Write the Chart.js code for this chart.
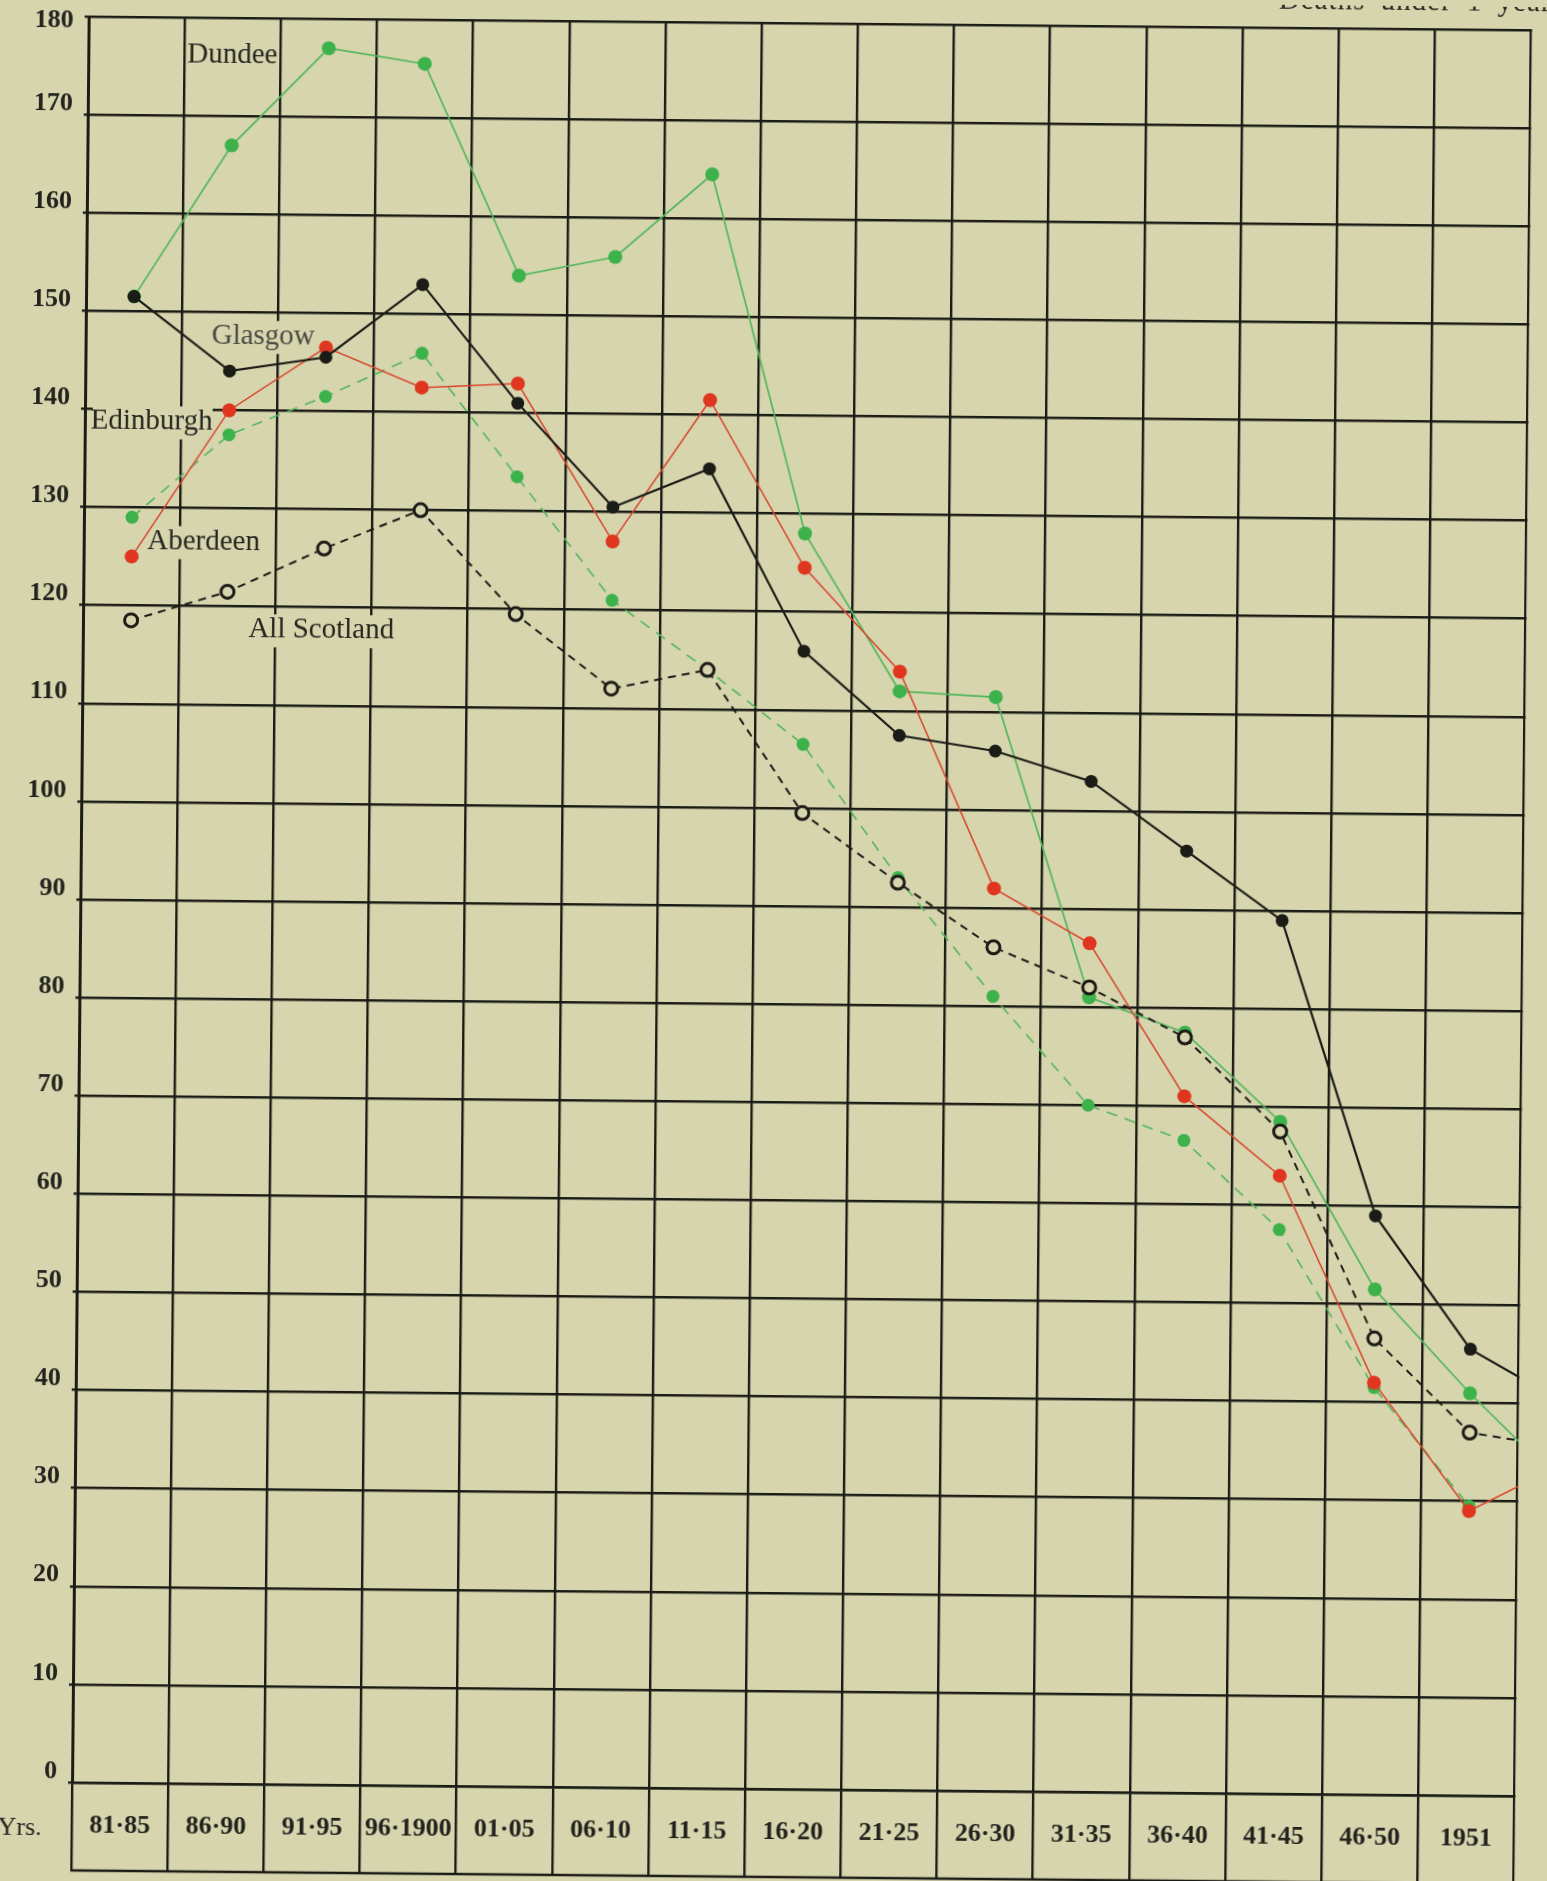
<!DOCTYPE html>
<html>
<head>
<meta charset="utf-8">
<script src="https://cdn.jsdelivr.net/npm/chart.js@4.4.1/dist/chart.umd.min.js"></script>
<style>
  html, body { margin: 0; padding: 0; background: #d6d5ae; overflow: hidden; width: 1547px; height: 1881px; }
  /* the scanned page sits a little crooked; the sheet is wider than the window,
     the last period column runs off the edge */
  #hoja { width: 1628px; height: 1881px; transform: rotate(0.54deg); transform-origin: 773.5px 940.5px; }
</style>
</head>
<body>
<div id="hoja"><canvas id="grafica"></canvas></div>
<script>
// periods on the x axis; the last one lies past the edge of the page
const periodos = ['81·85', '86·90', '91·95', '96·1900', '01·05', '06·10', '11·15', '16·20',
  '21·25', '26·30', '31·35', '36·40', '41·45', '46·50', '1951', '1952'];

// deaths under 1 year per 1000 births
const glasgow     = [151.5, 144, 145.5, 153, 141, 130.5, 134.5, 116, 107.5, 106, 103, 96, 89, 59, 45.5, 40];
const dundee      = [151.5, 167, 177, 175.5, 154, 156, 164.5, 128, 112, 111.5, 81, 77.5, 68.5, 51.5, 41, 31.5];
const aberdeen    = [125, 140, 146.5, 142.5, 143, 127, 141.5, 124.5, 114, 92, 86.5, 71, 63, 42, 29, 34];
const edinburgh   = [129, 137.5, 141.5, 146, 133.5, 121, 114, 106.5, 93, 81, 70, 66.5, 57.5, 41.5, 29.5, null];
const allScotland = [118.5, 121.5, 126, 130, 119.5, 112, 114, 99.5, 92.5, 86, 82, 77, 67.5, 46.5, 37, 35.5];

const papel = '#d6d5ae';
const tinta = '#1c1c17';
const verde = '#3db24b';
const verdeLinea = '#52b65c';
const rojo = '#e0351f';

// names written on the chart, placed in axis units (period index, deaths)
const etiquetas = [
  { texto: 'Dundee', periodo: 0.53, valor: 175.4, color: '#26261f' },
  { texto: 'Glasgow', periodo: 0.81, valor: 146.8, color: '#4a4a42' },
  { texto: 'Edinburgh', periodo: -0.44, valor: 138.0, color: '#26261f' },
  { texto: 'Aberdeen', periodo: 0.16, valor: 125.8, color: '#26261f' },
  { texto: 'All Scotland', periodo: 1.22, valor: 116.9, color: '#26261f' },
];

const fondoPapel = {
  id: 'fondoPapel',
  beforeDraw(chart) {
    const { ctx, width, height } = chart;
    ctx.save();
    ctx.fillStyle = papel;
    ctx.fillRect(0, 0, width, height);
    ctx.restore();
  }
};

const rotulos = {
  id: 'rotulos',
  beforeDatasetsDraw(chart) {
    const { ctx, scales } = chart;
    ctx.save();
    ctx.font = '29px "Liberation Serif"';
    ctx.textBaseline = 'alphabetic';
    ctx.textAlign = 'left';
    etiquetas.forEach(e => {
      const x = scales.x.getPixelForValue(e.periodo);
      const y = scales.y.getPixelForValue(e.valor);
      const m = ctx.measureText(e.texto);
      ctx.fillStyle = papel;
      ctx.fillRect(x + 2, y - 23, m.width - 2, 33);
      ctx.fillStyle = e.color;
      ctx.fillText(e.texto, x, y);
    });
    ctx.restore();
  },
  afterDraw(chart) {
    const { ctx, chartArea, scales, width, height } = chart;
    const borde = scales.x.getPixelForValue(14.5);
    ctx.save();
    // page edge: nothing printed past the last column
    ctx.fillStyle = papel;
    ctx.fillRect(borde + 1.2, 0, width - borde, height);

    // bottom rule of the period row
    ctx.strokeStyle = tinta;
    ctx.lineWidth = 2.4;
    ctx.beginPath();
    ctx.moveTo(chartArea.left - 1, chartArea.bottom + 88);
    ctx.lineTo(borde + 1, chartArea.bottom + 88);
    ctx.stroke();

    ctx.fillStyle = '#26261f';
    ctx.font = '26px "Liberation Serif"';
    ctx.textAlign = 'right';
    ctx.textBaseline = 'middle';
    ctx.fillText('Yrs.', chartArea.left - 30, chartArea.bottom + 46);

    ctx.font = '29px "Liberation Serif"';
    ctx.textAlign = 'left';
    ctx.textBaseline = 'alphabetic';
    if ('letterSpacing' in ctx) ctx.letterSpacing = '1px';
    if ('wordSpacing' in ctx) ctx.wordSpacing = '7px';
    ctx.fillText('Deaths under 1 year', 1270, 4);
    ctx.restore();
  }
};

const fuenteEjes = { family: 'Liberation Serif', size: 26, weight: 'bold' };

new Chart(document.getElementById('grafica').getContext('2d'), {
  type: 'line',
  data: {
    labels: periodos,
    datasets: [
      {
        label: 'All Scotland',
        data: allScotland,
        borderColor: tinta,
        borderWidth: 2,
        borderDash: [8, 6],
        pointBackgroundColor: papel,
        pointBorderColor: tinta,
        pointBorderWidth: 3,
        pointRadius: 6.5,
      },
      {
        label: 'Glasgow',
        data: glasgow,
        borderColor: tinta,
        borderWidth: 2.2,
        pointBackgroundColor: tinta,
        pointBorderWidth: 0,
        pointRadius: 6.5,
      },
      {
        label: 'Aberdeen',
        data: aberdeen,
        borderColor: '#d8452d',
        borderWidth: 1.5,
        pointBackgroundColor: rojo,
        pointBorderWidth: 0,
        pointRadius: 7,
      },
      {
        label: 'Edinburgh',
        data: edinburgh,
        borderColor: verdeLinea,
        borderWidth: 1.6,
        borderDash: [11, 8],
        pointBackgroundColor: verde,
        pointBorderWidth: 0,
        pointRadius: 6.5,
      },
      {
        label: 'Dundee',
        data: dundee,
        borderColor: verdeLinea,
        borderWidth: 1.7,
        pointBackgroundColor: verde,
        pointBorderWidth: 0,
        pointRadius: 7,
      },
    ],
  },
  options: {
    responsive: true,
    maintainAspectRatio: false,
    animation: false,
    layout: { padding: { top: 23, right: 0, left: 0, bottom: 0 } },
    elements: { line: { tension: 0 } },
    scales: {
      x: {
        type: 'category',
        offset: true,
        grid: { offset: true, color: tinta, lineWidth: 2.4, tickLength: 88 },
        border: { color: tinta, width: 2.4 },
        ticks: {
          autoSkip: false,
          maxRotation: 0,
          padding: -60,
          color: '#23231e',
          font: fuenteEjes,
        },
        afterFit: s => { s.height = 92; },
      },
      y: {
        min: 0,
        max: 180,
        grid: { color: tinta, lineWidth: 2.4, tickLength: 4 },
        border: { color: tinta, width: 3 },
        ticks: {
          stepSize: 10,
          padding: 11,
          labelOffset: -11,
          color: '#23231e',
          font: fuenteEjes,
          // the top figure is printed just under the frame
          callback: v => (v === 180 ? ['', '180'] : String(v)),
        },
        afterFit: s => { s.width = 80; s.paddingTop = 0; s.paddingBottom = 0; },
      },
    },
    plugins: {
      legend: { display: false },
      tooltip: { enabled: false },
      title: { display: false },
    },
  },
  plugins: [fondoPapel, rotulos],
});
</script>
</body>
</html>
